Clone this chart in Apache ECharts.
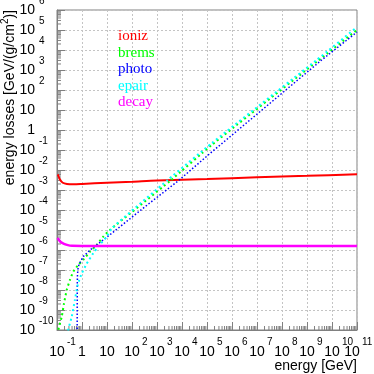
<!DOCTYPE html>
<html><head><meta charset="utf-8">
<script src="https://cdn.jsdelivr.net/npm/echarts@6/dist/echarts.min.js"></script>
<style>html,body{margin:0;padding:0;background:#fff}#c{width:374px;height:374px}</style>
</head><body><div id="c"></div>
<script>
// ---- data (energy in GeV, loss in GeV/(g/cm2)) ----
const seriesNames = ['ioniz', 'brems', 'photo', 'epair', 'decay'];
const seriesColors = ['#ff0000', '#00ff00', '#0000ff', '#00ffff', '#ff00ff'];

const ionizE = [0.105, 0.11, 0.13, 0.17, 0.25, 0.45, 1, 10, 100, 1e3, 1e5, 1e7, 1e9, 1e11];
const ionizL = [6.0e-3, 5.6e-3, 3.4e-3, 2.3e-3, 2.0e-3, 1.93e-3, 2.0e-3, 2.3e-3, 2.6e-3, 3.0e-3, 3.5e-3, 4.3e-3, 5.1e-3, 6.2e-3];

const bremsE = [0.105, 0.112, 0.155, 0.19, 0.245, 0.33, 0.45, 0.71, 1.12, 2.1, 3.9, 7.1, 13, 3.3e3, 1.55e5, 2.45e9, 1e11];
const bremsL = [6e-11, 1.0e-10, 4.7e-10, 2.1e-9, 1.0e-8, 3.2e-8, 8.3e-8, 1.8e-7, 3.2e-7, 8.3e-7, 1.8e-6, 4.7e-6, 1.0e-5, 2.8e-3, 0.18, 2.6e3, 1.0e5];

const photoE = [0.64, 0.643, 0.646, 0.65, 0.66, 0.70, 0.78, 1.13, 2.1, 3.9, 7.1, 15.4, 525, 6.9e3, 1.3e5, 3.9e9, 1e11];
const photoL = [1e-11, 1e-9, 1e-8, 3e-8, 6e-8, 1.3e-7, 2.1e-7, 4.7e-7, 1.0e-6, 1.8e-6, 3.2e-6, 6.8e-6, 2.3e-4, 2.8e-3, 6.6e-2, 3.2e3, 7.9e4];

const epairE = [0.27, 0.28, 0.39, 0.52, 0.65, 0.78, 0.98, 1.55, 2.8, 4.5, 9.8, 16, 2.8e3, 1.55e5, 2.45e9, 1e11];
const epairL = [3e-11, 1e-10, 4.7e-10, 3.2e-9, 1.5e-8, 3.2e-8, 6.8e-8, 2.1e-7, 6.8e-7, 1.5e-6, 4.7e-6, 1.26e-5, 3.3e-3, 0.22, 3.2e3, 1.4e5];

const decayE = [0.105, 0.11, 0.14, 0.18, 0.25, 0.4, 1, 1e11];
const decayL = [4.0e-6, 3.7e-6, 2.5e-6, 2.1e-6, 1.8e-6, 1.62e-6, 1.6e-6, 1.6e-6];

// tick labels: base text and exponent text for each decade
const xTickExps = ['-1', '0', '1', '2', '3', '4', '5', '6', '7', '8', '9', '10', '11'];
const yTickExps = ['-10', '-9', '-8', '-7', '-6', '-5', '-4', '-3', '-2', '-1', '0', '1', '2', '3', '4', '5', '6'];

const xTitle = 'energy [GeV]';
const yTitle = 'energy losses [GeV/(g/cm{s|2})]';

// ---- build ----
const FONT = 'Liberation Sans';
const xMin = 0.1, xMax = 1e11, yMin = 1e-10, yMax = 1e6;
function expOf(v) { return Math.round(Math.log10(v)); }
function baseText(v, exps) {
  const n = expOf(v);
  if (!exps.some(e => +e === n)) return '';
  return n === 0 ? '1' : '10';
}
function supText(v, exps) {
  const n = expOf(v);
  const s = exps.find(e => +e === n);
  if (s === undefined || n === 0 || n === 1) return '';
  return s;
}
function pairs(xs, ys) { return xs.map((x, i) => [x, ys[i]]); }

const xMinor = [], yMinor = [];
for (let n = Math.log10(xMin); n < Math.log10(xMax); n++) for (let k = 2; k < 10; k++) xMinor.push([k * Math.pow(10, n), yMin]);
for (let n = Math.log10(yMin); n < Math.log10(yMax); n++) for (let k = 2; k < 10; k++) yMinor.push([xMin, k * Math.pow(10, n)]);

const axisColor = '#808080';
const gridLine = { show: true, lineStyle: { color: '#c4c4c4', type: [2, 2], width: 1 } };

const lineDefs = [
  { d: pairs(ionizE, ionizL), w: 2, t: 'solid', smooth: 0.3 },
  { d: pairs(bremsE, bremsL), w: 2, t: [2, 3], smooth: 0.15 },
  { d: pairs(photoE, photoL), w: 1.5, t: [1.5, 2], smooth: 0 },
  { d: pairs(epairE, epairL), w: 2, t: [2, 3], smooth: 0.15 },
  { d: pairs(decayE, decayL), w: 2.5, t: 'solid', smooth: 0.3 }
];

const series = lineDefs.map((s, i) => ({
  name: seriesNames[i], type: 'line', data: s.d, showSymbol: false, symbol: 'none',
  smooth: s.smooth, clip: true, z: 3,
  lineStyle: { color: seriesColors[i], width: s.w, type: s.t },
  itemStyle: { color: seriesColors[i] }
}));

series.push({
  type: 'custom', name: 'xminor', silent: true, clip: false, z: 2, data: xMinor,
  renderItem: (p, api) => {
    const c = api.coord([api.value(0), api.value(1)]);
    return { type: 'line', shape: { x1: c[0], y1: c[1], x2: c[0], y2: c[1] - 4 }, style: { stroke: axisColor, lineWidth: 1 } };
  }
});
series.push({
  type: 'custom', name: 'yminor', silent: true, clip: false, z: 2, data: yMinor,
  renderItem: (p, api) => {
    const c = api.coord([api.value(0), api.value(1)]);
    return { type: 'line', shape: { x1: c[0], y1: c[1], x2: c[0] + 4, y2: c[1] }, style: { stroke: axisColor, lineWidth: 1 } };
  }
});

const hiddenAxisParts = { axisLine: { show: false }, axisTick: { show: false }, splitLine: { show: false }, minorTick: { show: false } };

const chart = echarts.init(document.getElementById('c'), null, { renderer: 'canvas' });
chart.setOption({
  animation: false,
  backgroundColor: '#fff',
  grid: { left: 57, right: 17, top: 10, bottom: 44, show: true, borderColor: axisColor, borderWidth: 1, containLabel: false, outerBoundsMode: 'none' },
  legend: {
    orient: 'vertical', left: 113, top: 28, padding: 0, itemGap: 0, itemWidth: 0, itemHeight: 10,
    icon: 'none', selectedMode: false,
    textStyle: { fontFamily: 'Liberation Serif', fontSize: 15, lineHeight: 16.5 },
    data: seriesNames.map((n, i) => ({ name: n, icon: 'none', textStyle: { color: seriesColors[i] } }))
  },
  xAxis: [{
    type: 'log', logBase: 10, min: xMin, max: xMax, interval: 1, splitNumber: 12,
    name: xTitle, nameLocation: 'end', nameGap: 0, nameMoveOverlap: false,
    nameTextStyle: { fontFamily: FONT, fontSize: 14, color: '#000', align: 'right', verticalAlign: 'top', padding: [29, 0, 0, 0] },
    axisLine: { show: true, lineStyle: { color: axisColor } },
    axisTick: { show: true, inside: true, length: 8, lineStyle: { color: axisColor } },
    minorTick: { show: false },
    splitLine: gridLine,
    axisLabel: {
      interval: 0, margin: 15, hideOverlap: false, showMinLabel: true, showMaxLabel: true,
      fontFamily: FONT, fontSize: 14, lineHeight: 14, color: '#000',
      formatter: v => {
        const t = baseText(v, xTickExps);
        return expOf(v) === 11 ? '{l|' + t + '}' : t;
      },
      rich: { l: { fontFamily: FONT, fontSize: 14, lineHeight: 14, color: '#000', padding: [0, 10, 0, 0] } }
    }
  }, {
    type: 'log', logBase: 10, min: xMin, max: xMax, interval: 1, splitNumber: 12, position: 'bottom', offset: 0,
    ...hiddenAxisParts,
    axisLabel: {
      interval: 0, margin: 7, hideOverlap: false, showMinLabel: true, showMaxLabel: true, align: 'left',
      fontFamily: FONT, fontSize: 10, lineHeight: 10, color: '#000',
      formatter: v => {
        const s = supText(v, xTickExps);
        if (!s) return '';
        return expOf(v) === 11 ? '{l|' + s + '}' : '{e|' + s + '}';
      },
      rich: {
        e: { fontFamily: FONT, fontSize: 10, lineHeight: 10, color: '#000', padding: [0, 0, 0, 10] },
        l: { fontFamily: FONT, fontSize: 10, lineHeight: 10, color: '#000', padding: [0, 0, 0, 5] }
      }
    }
  }],
  yAxis: [{
    type: 'log', logBase: 10, min: yMin, max: yMax, interval: 1, splitNumber: 16,
    name: yTitle, nameLocation: 'end', nameGap: 0, nameRotate: 90, nameMoveOverlap: false,
    nameTextStyle: {
      fontFamily: FONT, fontSize: 14, color: '#000', align: 'right', verticalAlign: 'bottom', padding: [0, 0, 37, 0],
      rich: { s: { fontFamily: FONT, fontSize: 10, color: '#000', padding: [0, 0, 10, 0] } }
    },
    axisLine: { show: true, lineStyle: { color: axisColor } },
    axisTick: { show: true, inside: true, length: 8, lineStyle: { color: axisColor } },
    minorTick: { show: false },
    splitLine: gridLine,
    axisLabel: {
      interval: 0, margin: 22, hideOverlap: false, showMinLabel: true, showMaxLabel: true,
      fontFamily: FONT, fontSize: 14, lineHeight: 14, color: '#000',
      formatter: v => baseText(v, yTickExps)
    }
  }, {
    type: 'log', logBase: 10, min: yMin, max: yMax, interval: 1, splitNumber: 16, position: 'left', offset: 0,
    ...hiddenAxisParts,
    axisLabel: {
      interval: 0, margin: 18, hideOverlap: false, showMinLabel: true, showMaxLabel: true,
      align: 'left', verticalAlign: 'bottom', padding: [0, 0, 4, 0],
      fontFamily: FONT, fontSize: 10, lineHeight: 10, color: '#000',
      formatter: v => supText(v, yTickExps)
    }
  }],
  series: series
});
</script></body></html>
